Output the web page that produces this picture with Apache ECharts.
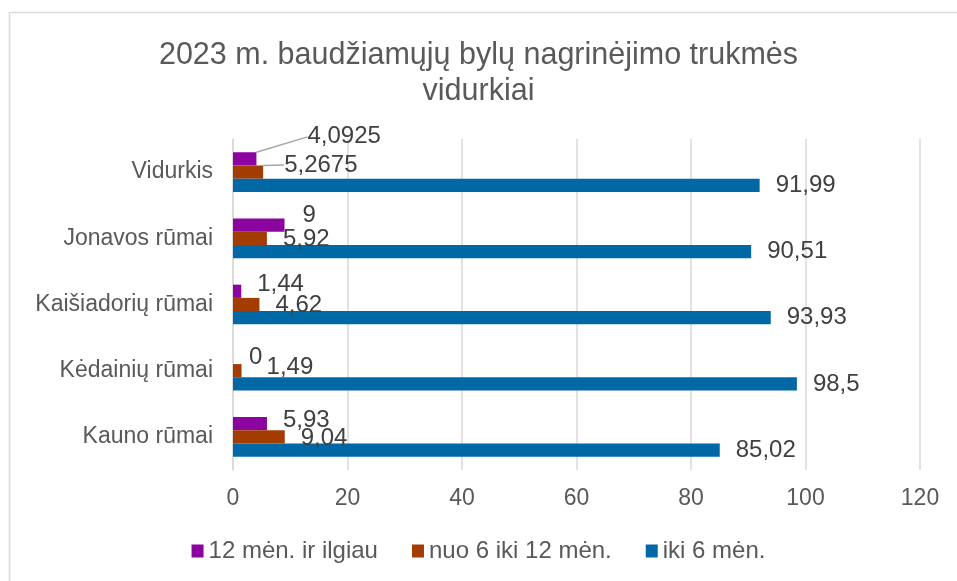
<!DOCTYPE html>
<html>
<head>
<meta charset="utf-8">
<script src="https://cdn.jsdelivr.net/npm/echarts@6/dist/echarts.min.js"></script>
<style>
  html, body { margin: 0; padding: 0; background: #fff; }
  #chart { width: 957px; height: 581px; }
</style>
</head>
<body>
<div id="chart"></div>
<script>
// kategorijos iš viršaus į apačią
var categories = ['Vidurkis', 'Jonavos rūmai', 'Kaišiadorių rūmai', 'Kėdainių rūmai', 'Kauno rūmai'];
var seriesNames = ['12 mėn. ir ilgiau', 'nuo 6 iki 12 mėn.', 'iki 6 mėn.'];
var over12 = [4.0925, 9, 1.44, 0, 5.93];
var from6to12 = [5.2675, 5.92, 4.62, 1.49, 9.04];
var under6 = [91.99, 90.51, 93.93, 98.5, 85.02];
var xTicks = [0, 20, 40, 60, 80, 100, 120];

var colors = ['#8c04a0', '#a33c00', '#0068a4'];
var font = '"Liberation Sans", Arial, sans-serif';

// Excel etikečių poslinkiai (dx, dy) pagal kategoriją
var shiftOver12 = [[35, -22], [2, -10], [0, -7], [0, 0], [0, -3]];
var shiftFrom6 = [[5, -7], [0, 1], [0, 1], [9, -3], [0, 1]];

function fmt(p) {
  return String(p.value).replace('.', ',');
}

function makeData(values, withLine) {
  return values.map(function (v, i) {
    if (withLine && i === 0) {
      return { value: v, labelLine: { show: true } };
    }
    return v;
  });
}

function makeSeries(idx, values, shifts) {
  var s = {
    name: seriesNames[idx],
    type: 'bar',
    data: makeData(values, !!shifts),
    itemStyle: { color: colors[idx] },
    barGap: '0%',
    barCategoryGap: '40%',
    label: {
      show: true,
      position: 'right',
      distance: 16,
      formatter: fmt,
      fontFamily: font,
      fontSize: 24,
      color: '#404040'
    },
    labelLine: {
      show: false,
      lineStyle: { color: '#a6a6a6', width: 1.5 }
    }
  };
  if (shifts) {
    s.labelLayout = function (params) {
      var sh = shifts[params.dataIndex];
      return { dx: sh[0], dy: sh[1] };
    };
  }
  return s;
}

var myChart = echarts.init(document.getElementById('chart'));
var option = {
  animation: false,
  backgroundColor: '#fff',
  title: {
    text: '2023 m. baudžiamųjų bylų nagrinėjimo trukmės\nvidurkiai',
    left: 'center',
    top: 33,
    textStyle: {
      fontFamily: font,
      fontSize: 30.5,
      fontWeight: 'normal',
      color: '#595959',
      lineHeight: 36
    }
  },
  legend: {
    bottom: 13,
    left: 'center',
    icon: 'rect',
    itemWidth: 12,
    itemHeight: 13,
    itemGap: 34,
    data: seriesNames,
    textStyle: { fontFamily: font, fontSize: 24, color: '#595959' }
  },
  grid: {
    left: 233,
    right: 37,
    top: 139,
    bottom: 111
  },
  xAxis: {
    type: 'value',
    min: xTicks[0],
    max: xTicks[xTicks.length - 1],
    interval: 20,
    axisLine: { show: false },
    axisTick: { show: false },
    axisLabel: { fontFamily: font, fontSize: 23, color: '#595959', margin: 17 },
    splitLine: { lineStyle: { color: '#d9d9d9', width: 1.5 } }
  },
  yAxis: {
    type: 'category',
    inverse: true,
    data: categories,
    axisLine: { lineStyle: { color: '#d9d9d9', width: 1.5 } },
    axisTick: { show: false },
    axisLabel: { fontFamily: font, fontSize: 23, color: '#595959', margin: 20 }
  },
  graphic: [{
    type: 'rect',
    shape: { x: 9.5, y: 12.5, width: 1000, height: 700 },
    style: { fill: 'none', stroke: '#d9d9d9', lineWidth: 1.5 },
    silent: true
  }],
  series: [
    makeSeries(0, over12, shiftOver12),
    makeSeries(1, from6to12, shiftFrom6),
    makeSeries(2, under6, null)
  ]
};
myChart.setOption(option, true);
</script>
</body>
</html>
